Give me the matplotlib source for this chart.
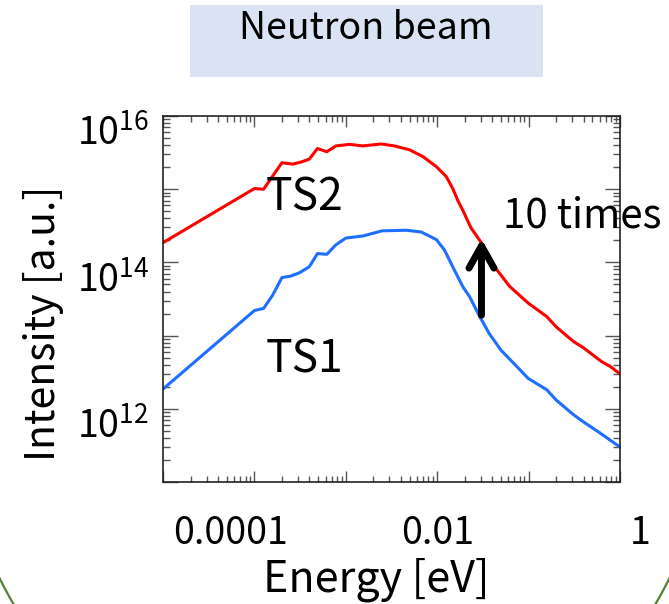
import numpy as np
import matplotlib
matplotlib.use('Agg')
import matplotlib.pyplot as plt
from matplotlib.patches import Rectangle
from matplotlib.ticker import LogLocator, NullFormatter
from matplotlib.transforms import ScaledTranslation

plt.rcParams['font.family'] = ['Noto Sans CJK JP', 'DejaVu Sans']
plt.rcParams['mathtext.fontset'] = 'custom'
plt.rcParams['mathtext.rm'] = 'Noto Sans CJK JP'
plt.rcParams['mathtext.it'] = 'Noto Sans CJK JP'

# spectra, energy in eV, intensity in a.u.
energy_ts2 = [1e-5, 1.0e-4, 1.26e-4, 2.0e-4, 2.63e-4, 3.24e-4, 3.98e-4, 4.9e-4, 6.2e-4,
              7.8e-4, 1.1e-3, 1.53e-3, 2.45e-3, 3.4e-3, 5.0e-3, 7.0e-3, 9.8e-3, 1.26e-2,
              1.48e-2, 1.7e-2, 1.9e-2, 2.34e-2, 3.0e-2, 4.5e-2, 6.2e-2, 0.1, 0.158,
              0.2, 0.31, 0.4, 0.63, 0.78, 1.0]
intensity_ts2 = [1.86e14, 1.02e15, 1.0e15, 2.3e15, 2.2e15, 2.35e15, 2.57e15, 3.6e15, 3.25e15,
                 3.9e15, 4.1e15, 3.9e15, 4.15e15, 3.9e15, 3.45e15, 2.78e15, 2.03e15, 1.48e15,
                 1.02e15, 6.8e14, 5.2e14, 2.97e14, 1.9e14, 7.9e13, 4.7e13, 2.75e13, 1.82e13,
                 1.32e13, 8.3e12, 6.8e12, 4.4e12, 3.8e12, 3.0e12]

energy_ts1 = [1e-5, 1.0e-4, 1.26e-4, 1.58e-4, 2.0e-4, 2.5e-4, 3.1e-4, 3.98e-4, 4.9e-4,
              6.2e-4, 7.8e-4, 1.0e-3, 1.55e-3, 2.5e-3, 4.6e-3, 6.7e-3, 9.8e-3, 1.2e-2,
              1.48e-2, 1.9e-2, 2.26e-2, 2.92e-2, 3.7e-2, 5.0e-2, 7.4e-2, 9.9e-2, 0.158,
              0.2, 0.31, 0.4, 0.6, 1.0]
intensity_ts1 = [1.86e12, 2.2e13, 2.35e13, 3.55e13, 6.2e13, 6.5e13, 7.2e13, 8.7e13, 1.32e14,
                 1.29e14, 1.74e14, 2.15e14, 2.3e14, 2.7e14, 2.75e14, 2.6e14, 2.05e14, 1.48e14,
                 8.7e13, 4.7e13, 3.4e13, 1.82e13, 1.07e13, 6.3e12, 3.8e12, 2.6e12, 1.82e12,
                 1.32e12, 8.3e11, 6.6e11, 4.7e11, 3.0e11]

xticks = [1e-5, 1e-4, 1e-3, 1e-2, 1e-1, 1]
xtick_labels = ['', '0.0001', '', '0.01', '', '1']
yticks = [1e11, 1e12, 1e13, 1e14, 1e15, 1e16]
ytick_labels = ['', '$10^{12}$', '', '$10^{14}$', '', '$10^{16}$']

# "10 times" arrow between the two sources
arrow_energy = 0.0305
arrow_from = 1.9e13
arrow_to = 2.1e14

W, H = 669, 604
fig = plt.figure(figsize=(W / 100, H / 100), dpi=100)

# slide decorations: title box and the green circle at the bottom corners
fig.add_artist(Rectangle((190 / W, 1 - 77 / H), 353 / W, 72 / H,
                         transform=fig.transFigure, color='#dae3f3', lw=0))
fig.text(366 / W, 1 - 39 / H, 'Neutron beam', ha='center', va='baseline', fontsize=27)

deco = fig.add_axes([0, 0, 1, 1], zorder=-1)
deco.set_xlim(0, W)
deco.set_ylim(H, 0)
deco.axis('off')
cx, cy, r = 334.5, 414.0, 373.0
for a0, a1 in [(148, 157), (23, 32)]:
    t = np.radians(np.linspace(a0, a1, 40))
    deco.plot(cx + r * np.cos(t), cy + r * np.sin(t), color='#548235', lw=1.6)

ax = fig.add_axes([163 / W, 1 - 482 / H, 457 / W, 366 / H])
ax.plot(energy_ts2, intensity_ts2, color='#ff0000', lw=2.2)
ax.plot(energy_ts1, intensity_ts1, color='#1e6eff', lw=2.2)
ax.set_xscale('log')
ax.set_yscale('log')
ax.set_xlim(1e-5, 1)
ax.set_ylim(1e11, 1e16)

ax.set_xticks(xticks)
ax.set_xticklabels(xtick_labels)
ax.set_yticks(yticks)
ax.set_yticklabels(ytick_labels)
for axis in (ax.xaxis, ax.yaxis):
    axis.set_minor_locator(LogLocator(base=10, subs=np.arange(2, 10), numticks=20))
    axis.set_minor_formatter(NullFormatter())
ax.tick_params(which='both', direction='in', top=True, right=True, colors='#555555',
               labelcolor='black', labelsize=27)
ax.tick_params(axis='x', which='major', length=8, width=1, pad=23)
ax.tick_params(axis='x', which='minor', length=4, width=1)
ax.tick_params(axis='y', which='major', length=11, width=1, pad=10)
ax.tick_params(axis='y', which='minor', length=5, width=1)
for s in ax.spines.values():
    s.set_linewidth(1.2)
    s.set_color('#222222')

# nudge the tick labels the way they sit on the slide
x_shift = [0, -24, 0, 0, 0, 20]
for lab, dx in zip(ax.get_xticklabels(), x_shift):
    lab.set_transform(lab.get_transform() + ScaledTranslation(dx / 100, 0, fig.dpi_scale_trans))
for lab in ax.get_yticklabels():
    lab.set_transform(lab.get_transform() + ScaledTranslation(0, -14 / 100, fig.dpi_scale_trans))

ax.set_xlabel('Energy [eV]', fontsize=31, va='center')
ax.xaxis.set_label_coords(0.466, -0.268)
ax.set_ylabel('Intensity [a.u.]', fontsize=29.5, va='center')
ax.yaxis.set_label_coords(-0.262, 0.434)

ax.text(0.225, 0.743, 'TS2', transform=ax.transAxes, fontsize=32, va='baseline')
ax.text(0.225, 0.30, 'TS1', transform=ax.transAxes, fontsize=32, va='baseline')
ax.text(0.744, 0.694, '10 times', transform=ax.transAxes, fontsize=29, va='baseline',
        clip_on=False)
ax.annotate('', xy=(arrow_energy, arrow_to), xytext=(arrow_energy, arrow_from),
            arrowprops=dict(arrowstyle='->,head_length=1.6,head_width=0.9',
                            color='black', lw=5, shrinkA=0, shrinkB=0))

fig.savefig('out.png', dpi=100)
